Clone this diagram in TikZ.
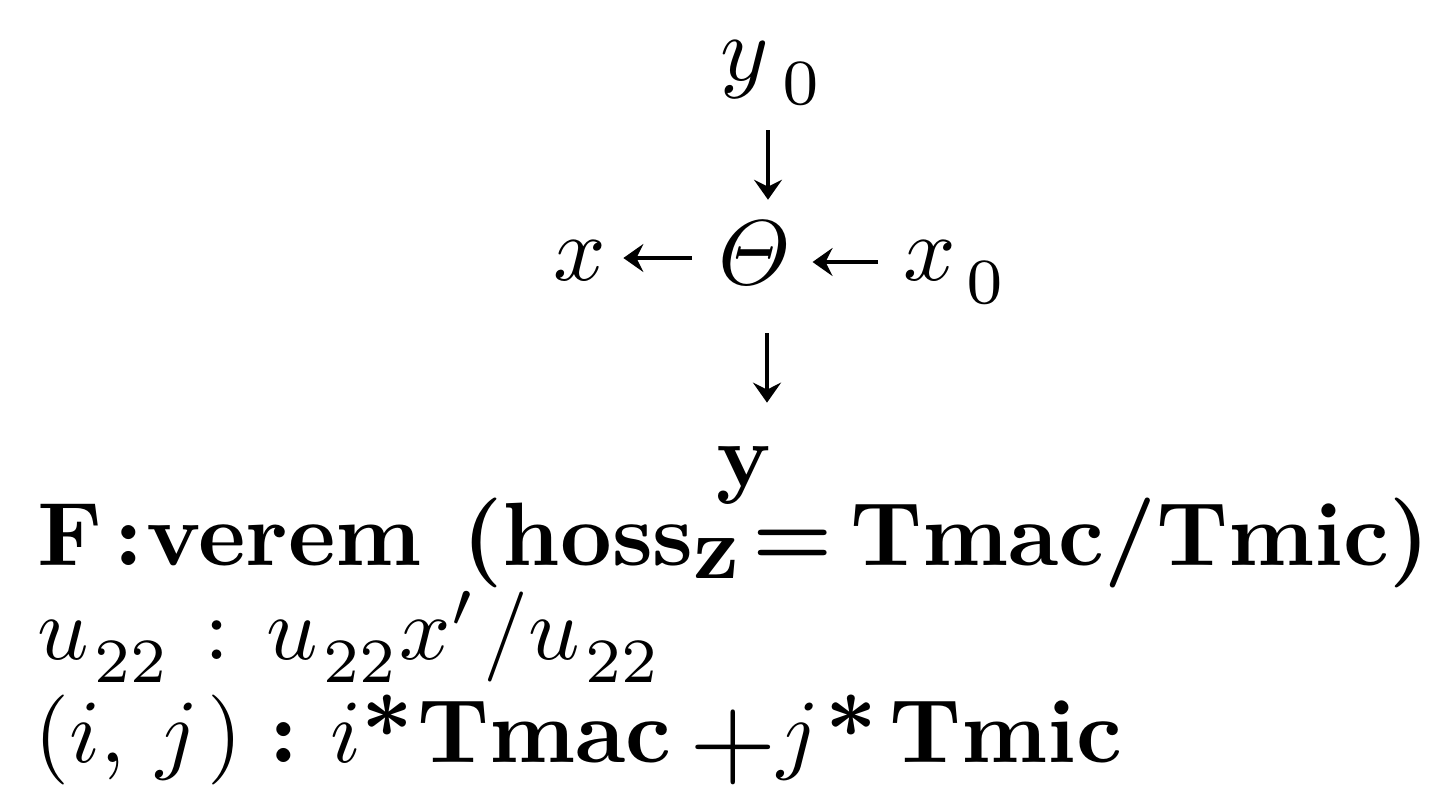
\documentclass[tikz,border=0pt]{standalone}
\usetikzlibrary{arrows.meta}
\begin{document}
\begin{tikzpicture}[x=0.5pt,y=-0.5pt,
  lbl/.style={inner sep=0pt, anchor=base west, font=\fontsize{10}{12}\selectfont},
  arr/.style={line width=2.2pt, -{Stealth[length=10pt,width=14pt,inset=3.5pt]}}]
\useasboundingbox (0,0) rectangle (1434,788);
% upper diagram
\node[lbl] (y0) at (720,80) {\scalebox{4.6}{$y_{\hspace{1.85pt}\raisebox{-1.2pt}{$\scriptstyle 0$}}$}};
\node[lbl] (theta) at (718,284) {\scalebox{4.6}{$\mathchar"0102$}};
\node[lbl] (x) at (553,280) {\scalebox{4.6}{$x$}};
\node[lbl] (x0) at (903,280) {\scalebox{4.6}{$x_{\hspace{1.1pt}\raisebox{-1pt}{$\scriptstyle 0$}}$}};
\node[lbl] (yb) at (716,486) {\scalebox{4.5}{\bfseries y}};
% text lines
\node[lbl] (l1) at (37,565) {\scalebox{4.5}{\bfseries F\hspace{1.33pt}:\hspace{.33pt}verem\hspace{4.55pt}(hoss\raisebox{-1.55pt}{z}\hspace{1.45pt}=\hspace{1.9pt}Tmac/Tmic)}};
\node[lbl] (l2) at (37,659) {\scalebox{4.5}{$u_{\hspace{.6pt}\raisebox{-1.1pt}{$\scriptstyle 22$}}\hspace{3.8pt}{:}\hspace{4.1pt}u_{\hspace{.6pt}\raisebox{-1.1pt}{$\scriptstyle 22$}}x'\hspace{.8pt}/u_{\hspace{.6pt}\raisebox{-1.1pt}{$\scriptstyle 22$}}$}};
\node[lbl] (l3) at (34,762) {\scalebox{4.5}{\bfseries $(i,\hspace{1.8pt}j\hspace{1pt})$\hspace{3pt}:\hspace{3.5pt}$i$*\hspace{.5pt}Tmac\hspace{2pt}\raisebox{-1.45pt}{\scalebox{1.25}{$+$}}$j$\hspace{.7pt}*\hspace{1.3pt}Tmic}};
% connectors
\coordinate (colA) at (768,0);
\coordinate (colB) at (767,0);
\coordinate (rowA) at (0,258);
\coordinate (rowB) at (0,262);
\draw[arr, shorten <=12.5pt, shorten >=10.5pt] (y0.south -| colA) -- (theta.north -| colA);
\draw[arr, shorten <=24.5pt, shorten >=21.5pt] (theta.south -| colB) -- (yb.north -| colB);
\draw[arr, shorten <=13pt, shorten >=8.5pt] (theta.west |- rowA) -- (x.east |- rowA);
\draw[arr, shorten <=12.5pt, shorten >=10.5pt] (x0.west |- rowB) -- (theta.east |- rowB);
\end{tikzpicture}
\end{document}
